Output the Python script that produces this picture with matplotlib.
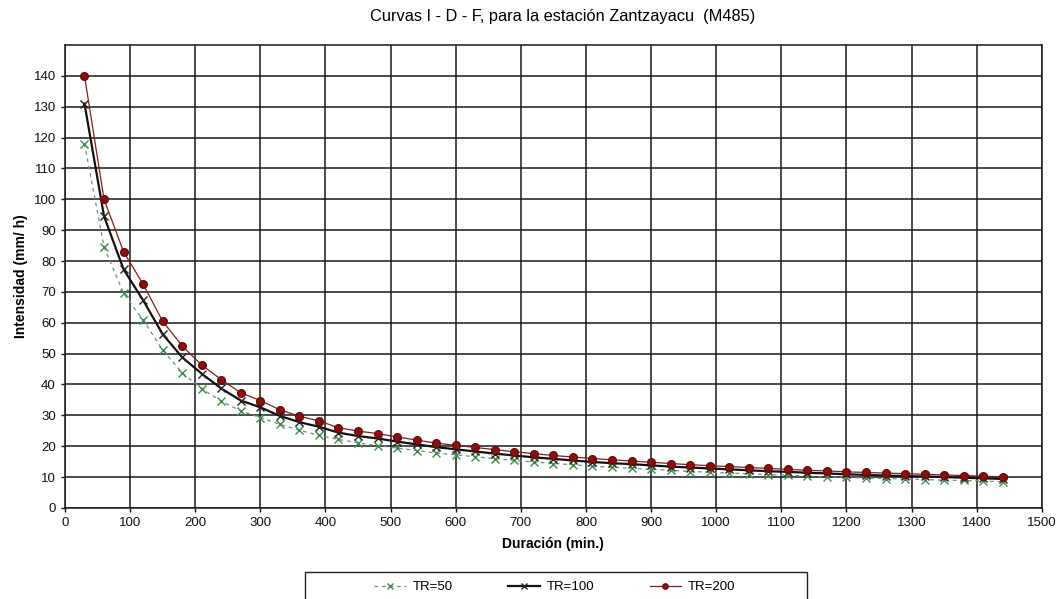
import matplotlib
matplotlib.use('Agg')
import matplotlib.pyplot as plt
from matplotlib.patches import Rectangle

plt.rcParams['font.family'] = ['Liberation Sans', 'DejaVu Sans']

# duraciones (min)
duracion = [30, 60, 90, 120, 150, 180, 210, 240, 270, 300, 330, 360,
            390, 420, 450, 480, 510, 540, 570, 600, 630, 660, 690, 720,
            750, 780, 810, 840, 870, 900, 930, 960, 990, 1020, 1050, 1080,
            1110, 1140, 1170, 1200, 1230, 1260, 1290, 1320, 1350, 1380, 1410, 1440]

# intensidades (mm/h)
tr50 = [118.0, 84.6, 69.5, 60.9, 51.2, 43.8, 38.6, 34.6, 31.4, 29.3, 27.1, 25.2,
        23.5, 22.2, 21.1, 20.2, 19.4, 18.6, 17.8, 17.2, 16.6, 16.0, 15.4, 14.9,
        14.4, 14.0, 13.5, 13.2, 12.8, 12.5, 12.2, 11.8, 11.6, 11.3, 11.1, 10.8,
        10.6, 10.3, 10.1, 9.9, 9.7, 9.5, 9.4, 9.2, 9.0, 8.9, 8.7, 8.5]
tr100 = [131.0, 94.5, 77.3, 67.3, 56.3, 48.8, 43.5, 38.7, 34.8, 32.6, 29.8, 27.8,
         26.3, 24.4, 23.3, 22.5, 21.5, 20.6, 19.7, 19.0, 18.3, 17.6, 17.0, 16.4,
         15.9, 15.4, 14.9, 14.5, 14.2, 13.8, 13.4, 13.1, 12.8, 12.5, 12.2, 11.9,
         11.7, 11.4, 11.2, 10.9, 10.7, 10.5, 10.3, 10.2, 10.0, 9.8, 9.6, 9.4]
tr200 = [140.0, 100.0, 83.0, 72.5, 60.5, 52.5, 46.3, 41.6, 37.3, 34.8, 31.8, 29.7,
         28.2, 26.0, 24.9, 24.1, 23.0, 22.0, 21.0, 20.3, 19.6, 18.9, 18.2, 17.6,
         17.0, 16.5, 16.0, 15.6, 15.2, 14.8, 14.4, 14.0, 13.7, 13.4, 13.1, 12.8,
         12.5, 12.2, 12.0, 11.7, 11.5, 11.3, 11.1, 10.9, 10.7, 10.5, 10.3, 10.1]

xticks = list(range(0, 1600, 100))
yticks = list(range(0, 150, 10))

fig = plt.figure(figsize=(10.63, 5.99), dpi=100)
ax = fig.add_axes([0.0611, 0.152, 0.919, 0.773])

ax.plot(duracion, tr50, linestyle=(0, (3, 3)), color='#6f8f7a', lw=0.9,
        marker='x', ms=6, mew=1.0, mec='#3f8a4f', label='TR=50', zorder=3)
ax.plot(duracion, tr100, linestyle='-', color='#111111', lw=1.6,
        marker='x', ms=6, mew=1.0, mec='#222222', label='TR=100', zorder=4)
ax.plot(duracion, tr200, linestyle='-', color='#8a1a1a', lw=0.9,
        marker='o', ms=5.5, mfc='#8b0f0f', mec='#6a0a0a', label='TR=200', zorder=5)

ax.set_xlim(0, 1500)
ax.set_ylim(0, 150)
ax.set_xticks(xticks)
ax.set_yticks(yticks)
ax.tick_params(labelsize=9.5, direction='out', length=3, width=1, colors='#111111')
ax.grid(True, color='#1a1a1a', lw=1.1)
ax.set_axisbelow(True)
for s in ax.spines.values():
    s.set_color('#1a1a1a')
    s.set_linewidth(1.1)

fig.text(0.5295, 0.972, 'Curvas I - D - F, para la estación Zantzayacu  (M485)',
         fontsize=11.8, ha='center', va='center')
ax.set_xlabel('Duración (min.)', fontsize=10, fontweight='bold', labelpad=6)
ax.set_ylabel('Intensidad (mm/ h)', fontsize=10, fontweight='bold', labelpad=4)

# leyenda abajo, con recuadro propio
handles, labels = ax.get_legend_handles_labels()
fig.legend(handles, labels, loc='center', bbox_to_anchor=(0.522, 1 - 587 / 599),
           ncol=3, fontsize=9.5, frameon=False, columnspacing=4.2,
           handlelength=2.4, handletextpad=0.5, markerscale=0.7)
fig.patches.append(Rectangle((305 / 1063, -0.02), (807 - 305) / 1063, 0.02 + 1 - 572 / 599,
                             transform=fig.transFigure, fill=False,
                             edgecolor='#222222', lw=1.0))

plt.savefig('out.png', dpi=100)
